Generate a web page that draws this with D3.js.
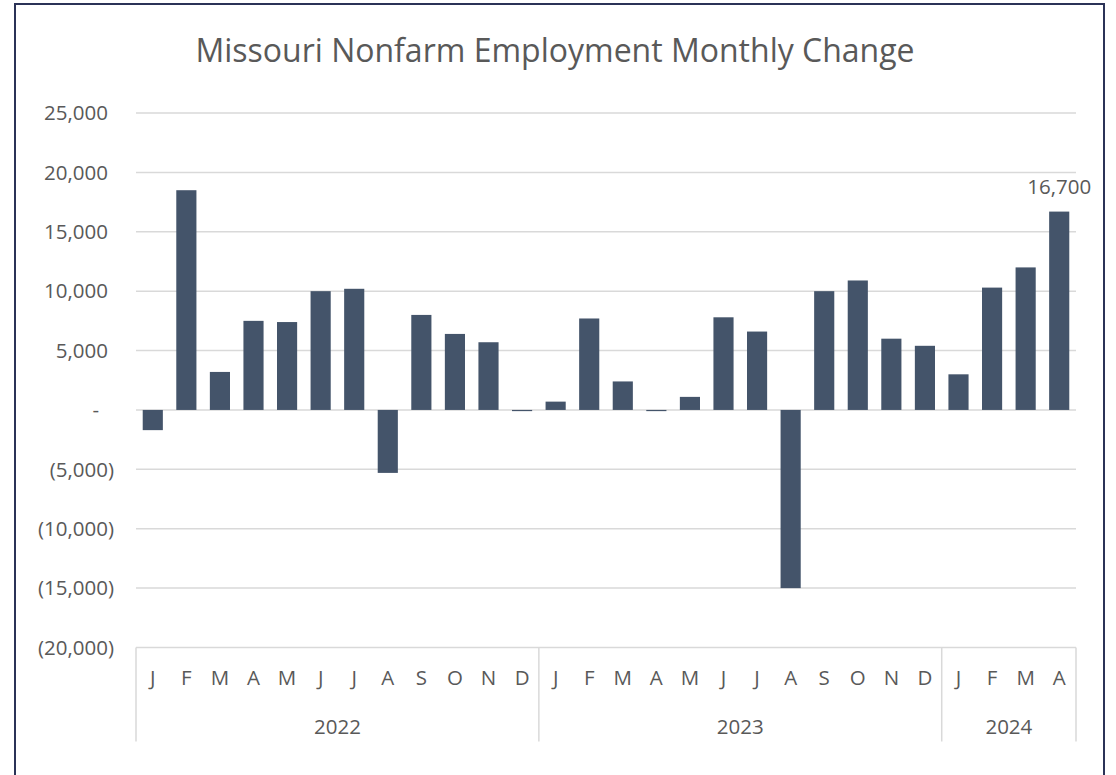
<!DOCTYPE html>
<html>
<head>
<meta charset="utf-8">
<script src="https://cdn.jsdelivr.net/npm/d3@7"></script>
<style>
  body { margin: 0; background: #fff; }
  text { font-family: "Open Sans", sans-serif; fill: #595959; }
</style>
</head>
<body>
<script>
// data
const months = ["J","F","M","A","M","J","J","A","S","O","N","D",
                "J","F","M","A","M","J","J","A","S","O","N","D",
                "J","F","M","A"];
const years = ["2022", "2023", "2024"];
const yearCounts = [12, 12, 4];
const changes = [-1700, 18500, 3200, 7500, 7400, 10000, 10200, -5300, 8000, 6400, 5700, -100,
                 700, 7700, 2400, -100, 1100, 7800, 6600, -15000, 10000, 10900, 6000, 5400,
                 3000, 10300, 12000, 16700];
const yTicks = [-20000, -15000, -10000, -5000, 0, 5000, 10000, 15000, 20000, 25000];

const width = 1116, height = 775;
const margin = { left: 136, right: 40, top: 113, bottom: 127 };

const svg = d3.select("body").append("svg")
  .attr("width", width)
  .attr("height", height);

// outer frame (bottom edge runs off the picture)
svg.append("path")
  .attr("d", `M15,${height + 5} V4 H1104 V${height + 5}`)
  .attr("fill", "none")
  .attr("stroke", "#2b3357")
  .attr("stroke-width", 2);

svg.append("text")
  .attr("x", 555).attr("y", 62)
  .attr("text-anchor", "middle")
  .style("font-size", "32px")
  .text("Missouri Nonfarm Employment Monthly Change");

const idx = d3.range(changes.length);
const x = d3.scaleBand()
  .domain(idx)
  .range([margin.left, width - margin.right])
  .paddingInner(0.4)
  .paddingOuter(0.2);

const y = d3.scaleLinear()
  .domain([-20000, 25000])
  .range([height - margin.bottom - 0.5, margin.top]);

const fmt = d => d === 0 ? "-" : (d < 0 ? "(" + d3.format(",")(-d) + ")" : d3.format(",")(d));

// gridlines
svg.append("g")
  .selectAll("line")
  .data(yTicks)
  .join("line")
  .attr("x1", margin.left).attr("x2", width - margin.right)
  .attr("y1", d => y(d)).attr("y2", d => y(d))
  .attr("stroke", "#d9d9d9")
  .attr("stroke-width", 1.5);

// y labels (accounting style: positives leave room for the closing bracket)
svg.append("g")
  .selectAll("text")
  .data(yTicks)
  .join("text")
  .attr("x", d => d === 0 ? 99 : (d < 0 ? 114 : 108))
  .attr("y", d => y(d))
  .attr("dy", "0.35em")
  .attr("text-anchor", "end")
  .style("font-size", "20.5px")
  .text(fmt);

// bars
svg.append("g")
  .selectAll("rect")
  .data(changes)
  .join("rect")
  .attr("x", (d, i) => x(i))
  .attr("width", x.bandwidth())
  .attr("y", d => y(Math.max(0, d)))
  .attr("height", d => Math.max(1, Math.abs(y(d) - y(0))))
  .attr("fill", "#44546a");

// data label on the last bar
const last = changes.length - 1;
svg.append("text")
  .attr("x", x(last) + x.bandwidth() / 2)
  .attr("y", y(changes[last]) - 18)
  .attr("text-anchor", "middle")
  .style("font-size", "20.5px")
  .text(d3.format(",")(changes[last]));

// category axis: month row and year row
const axisTop = y(-20000);
svg.append("g")
  .selectAll("text")
  .data(months)
  .join("text")
  .attr("x", (d, i) => x(i) + x.bandwidth() / 2)
  .attr("y", axisTop + 37)
  .attr("text-anchor", "middle")
  .style("font-size", "20.5px")
  .text(d => d);

const step = x.step();
let start = 0;
const yearSpans = years.map((yr, k) => {
  const s = { year: yr, x0: margin.left + start * step, x1: margin.left + (start + yearCounts[k]) * step };
  start += yearCounts[k];
  return s;
});

svg.append("g")
  .selectAll("text")
  .data(yearSpans)
  .join("text")
  .attr("x", d => (d.x0 + d.x1) / 2)
  .attr("y", axisTop + 86)
  .attr("text-anchor", "middle")
  .style("font-size", "20.5px")
  .text(d => d.year);

const bounds = [yearSpans[0].x0].concat(yearSpans.map(d => d.x1));
svg.append("g")
  .selectAll("line")
  .data(bounds)
  .join("line")
  .attr("x1", d => d).attr("x2", d => d)
  .attr("y1", axisTop).attr("y2", axisTop + 94)
  .attr("stroke", "#d9d9d9")
  .attr("stroke-width", 1.5);
</script>
</body>
</html>
